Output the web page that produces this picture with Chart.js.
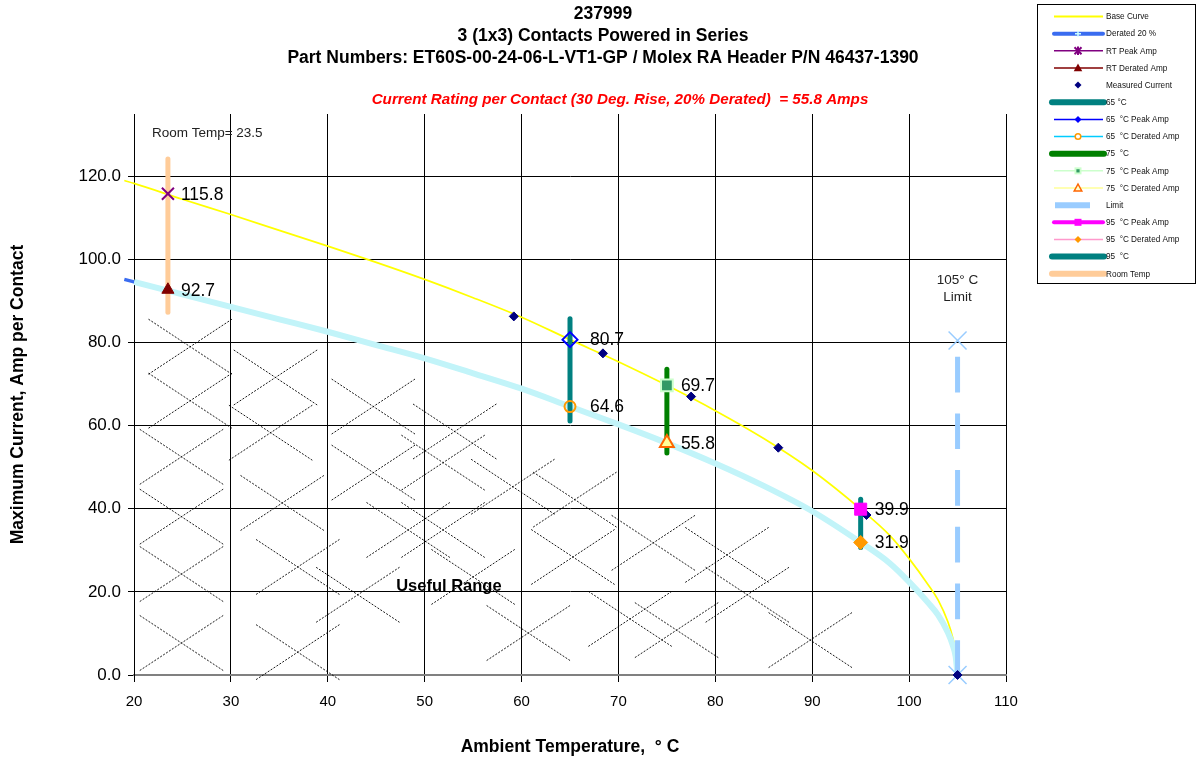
<!DOCTYPE html>
<html><head><meta charset="utf-8">
<script src="https://cdn.jsdelivr.net/npm/chart.js@4.4.1/dist/chart.umd.min.js"></script>
<style>html,body{margin:0;padding:0;background:#fff;} #wrap{width:1198px;height:762px;position:relative;overflow:hidden;}</style>
</head><body><div id="wrap"><canvas id="c" width="1198" height="762"></canvas></div>
<script>
const FONT = "'Liberation Sans', Arial, Helvetica, sans-serif";

// ---------- texts ----------
const titleLines = ['237999', '3 (1x3) Contacts Powered in Series', 'Part Numbers: ET60S-00-24-06-L-VT1-GP / Molex RA Header P/N 46437-1390'];
const ratingText = 'Current Rating per Contact (30 Deg. Rise, 20% Derated)  = 55.8 Amps';
const xTitle = 'Ambient Temperature,  \u00B0 C';
const yTitle = 'Maximum Current, Amp per Contact';
const roomTempText = 'Room Temp= 23.5';
const limitTextLines = ['105\u00B0 C', 'Limit'];
const usefulText = 'Useful Range';

// ---------- axes ----------
const xMin = 20, xMax = 110, xStep = 10;
const yMin = 0, yMax = 135, yStep = 20;

// ---------- data ----------
const curveT       = [19, 20, 25, 30, 35, 40, 45, 50, 55, 60, 65, 70, 75, 80, 85, 90, 95, 98, 100, 102, 103, 104, 104.5, 104.8, 105];
const baseCurve    = [119.0, 118.3, 114.5, 110.8, 107.0, 103.2, 99.3, 95.2, 90.8, 86.1, 80.7, 75.4, 69.7, 63.6, 56.9, 49.2, 39.9, 33.6, 28.0, 21.6, 18.0, 12.8, 9.0, 5.6, 0];
const deratedCurve = [95.2, 94.6, 91.6, 88.6, 85.6, 82.6, 79.4, 76.2, 72.6, 68.9, 64.6, 60.3, 55.8, 50.9, 45.5, 39.4, 31.9, 26.9, 22.4, 17.3, 14.4, 10.2, 7.2, 4.5, 0];

const measuredT = [59.2, 68.4, 77.5, 86.5, 95.6, 105];
const measuredI = [86.3, 77.4, 67.0, 54.7, 38.5, 0];

const testNames = ['RT', '65', '75', '95'];
const testT     = [23.5, 65, 75, 95];
const peakI     = [115.8, 80.7, 69.7, 39.9];
const deratedI  = [92.7, 64.6, 55.8, 31.9];
const barLow    = [87.3, 61.1, 53.4, 30.7];
const barHigh   = [124.2, 85.7, 73.6, 42.3];

const limitT = 105;
const limitMarkI = [80.5, 0];
const limitLineI = [76.6, 0];

const hatchT = [25.8, 25.8, 24.9, 24.9, 24.9, 24.9, 34.6, 34.1, 35.3, 36.9, 36.9, 44.7, 44.7, 48.3, 51.9, 43.1, 53.1, 51.9, 55.0, 59.1, 65.5, 65.3, 73.6, 81.2, 83.3, 89.8, 71.2, 76.0, 60.7];
const hatchI = [79.0, 66.0, 52.5, 38.1, 24.3, 7.7, 71.6, 58.3, 41.4, 26.0, 5.5, 64.6, 48.7, 34.9, 34.9, 19.3, 58.6, 51.1, 23.6, 45.3, 42.2, 28.4, 31.8, 28.9, 19.3, 8.4, 13.5, 10.8, 10.1];

const legendLabels = ['Base Curve', 'Derated 20 %', 'RT Peak Amp', 'RT Derated Amp', 'Measured Current', '65 \u00B0C', '65  \u00B0C Peak Amp', '65  \u00B0C Derated Amp', '75  \u00B0C', '75  \u00B0C Peak Amp', '75  \u00B0C Derated Amp', 'Limit', '95  \u00B0C Peak Amp', '95  \u00B0C Derated Amp', '95  \u00B0C', 'Room Temp'];

// ---------- styles ----------
const barColors = ['#ffcc99', '#008080', '#008000', '#008080'];
const peakStyle = [
  {pointStyle: 'crossRot', r: 8.5, bg: '#800080', bc: '#800080', bw: 2},
  {pointStyle: 'rectRot', r: 7.5, bg: 'rgba(0,0,0,0)', bc: '#0000ff', bw: 2},
  {pointStyle: 'rect', r: 8.3, bg: '#339966', bc: '#ccffcc', bw: 2},
  {pointStyle: 'rect', r: 8.5, bg: '#ff00ff', bc: '#ff00ff', bw: 1}
];
const deratedStyle = [
  {pointStyle: 'triangle', r: 7, bg: '#800000', bc: '#800000', bw: 1},
  {pointStyle: 'circle', r: 5.5, bg: 'rgba(0,0,0,0)', bc: '#ff9900', bw: 2},
  {pointStyle: 'triangle', r: 8, bg: '#ffff99', bc: '#ff6600', bw: 2},
  {pointStyle: 'rectRot', r: 7, bg: '#ff9900', bc: '#ff9900', bw: 1}
];
const labelDx = [13, 20, 14, 14];

const pts = (xs, ys) => xs.map((x, i) => ({x: x, y: ys[i]}));

const datasets = [];
datasets.push({label: 'Derated 20 %', data: pts(curveT, deratedCurve), showLine: true, borderColor: '#3a6cf0', borderWidth: 3.5, pointRadius: 0, clip: false, order: 100, cubicInterpolationMode: 'monotone'});
datasets.push({label: 'Base Curve', data: pts(curveT, baseCurve), showLine: true, borderColor: '#ffff00', borderWidth: 1.7, pointRadius: 0, clip: false, order: 95, cubicInterpolationMode: 'monotone'});
datasets.push({label: '65 Derated line', data: pts(curveT.slice(1), deratedCurve.slice(1)), showLine: true, borderColor: '#c2f4f9', borderWidth: 6, pointRadius: 0, order: 90, cubicInterpolationMode: 'monotone'});
datasets.push({label: 'Limit', data: pts([limitT, limitT], limitLineI), showLine: true, borderColor: '#99ccff', borderWidth: 5, borderDash: [35.7, 21], pointRadius: 0, clip: false, order: 75});
testT.forEach((t, i) => {
  datasets.push({label: testNames[i] + ' bar', data: pts([t, t], [barLow[i], barHigh[i]]), showLine: true, borderColor: barColors[i], borderWidth: 5, borderCapStyle: 'round', pointRadius: 0, order: 70});
});
datasets.push({label: 'Limit marks', data: pts([limitT, limitT], limitMarkI), showLine: false, pointStyle: 'crossRot', pointRadius: 12.7, borderColor: '#99ccff', borderWidth: 1.5, clip: false, order: 66});
datasets.push({label: 'Measured Current', data: pts(measuredT, measuredI), showLine: false, pointStyle: 'rectRot', pointRadius: 4.5, backgroundColor: '#000080', borderColor: '#000080', borderWidth: 1, clip: false, order: 60});
testT.forEach((t, i) => {
  const p = peakStyle[i], d = deratedStyle[i];
  datasets.push({label: testNames[i] + ' Peak', data: [{x: t, y: peakI[i]}], showLine: false, pointStyle: p.pointStyle, pointRadius: p.r, backgroundColor: p.bg, borderColor: p.bc, borderWidth: p.bw, clip: false, order: 50});
  datasets.push({label: testNames[i] + ' Derated', data: [{x: t, y: deratedI[i]}], showLine: false, pointStyle: d.pointStyle, pointRadius: d.r, backgroundColor: d.bg, borderColor: d.bc, borderWidth: d.bw, clip: false, order: 50});
});

// ---------- plugins ----------
const hatchPlugin = {
  id: 'hatch',
  beforeDatasetsDraw(chart) {
    const {ctx, scales: {x, y}} = chart;
    ctx.save();
    ctx.strokeStyle = '#000';
    ctx.lineWidth = 0.9;
    ctx.setLineDash([2, 1.5]);
    const hw = 41.7, hh = 27.5;
    hatchT.forEach((t, i) => {
      const px = x.getPixelForValue(t), py = y.getPixelForValue(hatchI[i]);
      ctx.beginPath();
      ctx.moveTo(px - hw, py - hh); ctx.lineTo(px + hw, py + hh);
      ctx.moveTo(px - hw, py + hh); ctx.lineTo(px + hw, py - hh);
      ctx.stroke();
    });
    ctx.restore();
  }
};

function mark(ctx, style, x, y, r, fill, stroke, lw) {
  ctx.save();
  ctx.setLineDash([]);
  ctx.beginPath();
  if (style === 'circle') ctx.arc(x, y, r, 0, Math.PI * 2);
  else if (style === 'rectRot') { ctx.moveTo(x - r, y); ctx.lineTo(x, y - r); ctx.lineTo(x + r, y); ctx.lineTo(x, y + r); ctx.closePath(); }
  else if (style === 'rect') ctx.rect(x - r, y - r, 2 * r, 2 * r);
  else if (style === 'triangle') { ctx.moveTo(x, y - r); ctx.lineTo(x + r * 0.95, y + r * 0.75); ctx.lineTo(x - r * 0.95, y + r * 0.75); ctx.closePath(); }
  else if (style === 'star') { ctx.moveTo(x - r, y - r); ctx.lineTo(x + r, y + r); ctx.moveTo(x - r, y + r); ctx.lineTo(x + r, y - r); ctx.moveTo(x, y - r * 1.2); ctx.lineTo(x, y + r * 1.2); }
  else if (style === 'plus') { ctx.moveTo(x - r, y); ctx.lineTo(x + r, y); ctx.moveTo(x, y - r); ctx.lineTo(x, y + r); }
  if (fill) { ctx.fillStyle = fill; ctx.fill(); }
  if (stroke) { ctx.strokeStyle = stroke; ctx.lineWidth = lw || 1; ctx.stroke(); }
  ctx.restore();
}

const legendStyles = [
  {line: '#ffff00', w: 2},
  {line: '#3a6cf0', w: 4, cap: 'round', m: 'plus', mr: 3, ms: '#ccffff', mlw: 1.5},
  {line: '#800080', w: 1.5, m: 'star', mr: 3.5, ms: '#800080', mlw: 2},
  {line: '#800000', w: 1.5, m: 'triangle', mr: 4.5, mf: '#800000'},
  {m: 'rectRot', mr: 3.5, mf: '#000080'},
  {line: '#008080', w: 6, cap: 'round', x0: 1052, x1: 1104},
  {line: '#0000ff', w: 1.5, m: 'rectRot', mr: 3.5, mf: '#0000ff'},
  {line: '#00ccff', w: 1.5, m: 'circle', mr: 2.8, mf: '#ffffff', ms: '#ff9900', mlw: 1.5},
  {line: '#008000', w: 6, cap: 'round', x0: 1052, x1: 1104},
  {line: '#ccffcc', w: 1.5, m: 'rect', mr: 3.5, mf: '#ccffcc', inner: '#339966'},
  {line: '#ffff99', w: 1.5, m: 'triangle', mr: 4, mf: '#ffffcc', ms: '#ff6600', mlw: 1.5},
  {line: '#99ccff', w: 6, x0: 1055, x1: 1090},
  {line: '#ff00ff', w: 4, cap: 'round', m: 'rect', mr: 3.5, mf: '#ff00ff'},
  {line: '#ff99cc', w: 1.5, m: 'rectRot', mr: 3.5, mf: '#ff9900'},
  {line: '#008080', w: 6, cap: 'round', x0: 1052, x1: 1104},
  {line: '#ffcc99', w: 6, cap: 'round', x0: 1052, x1: 1104}
];

const overlayPlugin = {
  id: 'overlay',
  afterDatasetsDraw(chart) {
    const {ctx, scales: {x, y}} = chart;
    ctx.save();
    // value labels
    ctx.fillStyle = '#000';
    ctx.font = '17.5px ' + FONT;
    ctx.textAlign = 'left';
    ctx.textBaseline = 'middle';
    testT.forEach((t, i) => {
      const px = x.getPixelForValue(t) + labelDx[i];
      ctx.fillText(peakI[i].toFixed(1), px, y.getPixelForValue(peakI[i]) + 1);
      ctx.fillText(deratedI[i].toFixed(1), px, y.getPixelForValue(deratedI[i]) + 1);
    });
    // room temp note
    ctx.fillStyle = '#222';
    ctx.font = '13.5px ' + FONT;
    ctx.textAlign = 'left';
    ctx.fillText(roomTempText, x.getPixelForValue(testT[0]) - 16, chart.chartArea.top + 19);
    // limit note
    ctx.textAlign = 'center';
    const lx = x.getPixelForValue(limitT), ly = y.getPixelForValue(limitMarkI[0]);
    ctx.fillText(limitTextLines[0], lx, ly - 60);
    ctx.fillText(limitTextLines[1], lx, ly - 43);
    // useful range
    ctx.fillStyle = '#000';
    ctx.font = 'bold 16.5px ' + FONT;
    ctx.fillText(usefulText, x.getPixelForValue(52.5), y.getPixelForValue(21.4));
    ctx.restore();
  },
  afterDraw(chart) {
    const {ctx} = chart;
    ctx.save();
    // titles
    ctx.fillStyle = '#000';
    ctx.textAlign = 'center';
    ctx.textBaseline = 'middle';
    ctx.font = 'bold 17.5px ' + FONT;
    titleLines.forEach((t, i) => ctx.fillText(t, 603, 14 + i * 22));
    ctx.fillStyle = '#ff0000';
    ctx.font = 'italic bold 15.2px ' + FONT;
    ctx.fillText(ratingText, 620, 100);
    // legend
    ctx.fillStyle = '#fff';
    ctx.fillRect(1037, 4, 159, 280);
    ctx.strokeStyle = '#000';
    ctx.lineWidth = 1;
    ctx.strokeRect(1037.5, 4.5, 158, 279);
    legendLabels.forEach((lab, i) => {
      const s = legendStyles[i];
      const yy = 16.5 + i * 17.15;
      if (s.line) {
        ctx.save();
        ctx.strokeStyle = s.line;
        ctx.lineWidth = s.w;
        ctx.lineCap = s.cap || 'butt';
        ctx.beginPath();
        ctx.moveTo(s.x0 || 1054, yy);
        ctx.lineTo(s.x1 || 1103, yy);
        ctx.stroke();
        ctx.restore();
      }
      if (s.m) {
        mark(ctx, s.m, 1078, yy, s.mr, s.mf, s.ms, s.mlw);
        if (s.inner) mark(ctx, 'rect', 1078, yy, 1.6, s.inner);
      }
      ctx.fillStyle = '#111';
      ctx.font = '8.2px ' + FONT;
      ctx.textAlign = 'left';
      ctx.textBaseline = 'middle';
      ctx.fillText(lab, 1106, yy + 0.5);
    });
    ctx.restore();
  }
};

new Chart(document.getElementById('c'), {
  type: 'scatter',
  data: {datasets: datasets},
  options: {
    responsive: false,
    animation: false,
    devicePixelRatio: 1,
    events: [],
    layout: {padding: {top: 114, right: 192, bottom: 0, left: 0}},
    plugins: {legend: {display: false}, tooltip: {enabled: false}, title: {display: false}},
    scales: {
      x: {
        type: 'linear', min: xMin, max: xMax,
        afterFit: s => { s.height = 87; },
        ticks: {stepSize: xStep, color: '#000', font: {family: FONT, size: 15}, padding: 11, maxRotation: 0},
        grid: {color: '#000', lineWidth: 1, tickLength: 7, tickColor: '#000'},
        border: {color: '#808080', width: 2},
        title: {display: true, text: xTitle, color: '#000', font: {family: FONT, size: 17.5, weight: 'bold'}, padding: {top: 0, bottom: 4.5}}
      },
      y: {
        type: 'linear', min: yMin, max: yMax,
        afterFit: s => { s.width = 134; },
        afterBuildTicks: s => { s.ticks = s.ticks.filter(t => t.value % yStep === 0); },
        ticks: {stepSize: yStep, color: '#000', font: {family: FONT, size: 17}, padding: 7, callback: v => Number(v).toFixed(1)},
        grid: {color: '#000', lineWidth: 1, tickLength: 6, tickColor: '#000'},
        border: {color: '#000', width: 1},
        title: {display: true, text: yTitle, color: '#000', font: {family: FONT, size: 17.5, weight: 'bold'}, padding: {top: 8, bottom: 0}}
      }
    }
  },
  plugins: [hatchPlugin, overlayPlugin]
});
</script></body></html>
